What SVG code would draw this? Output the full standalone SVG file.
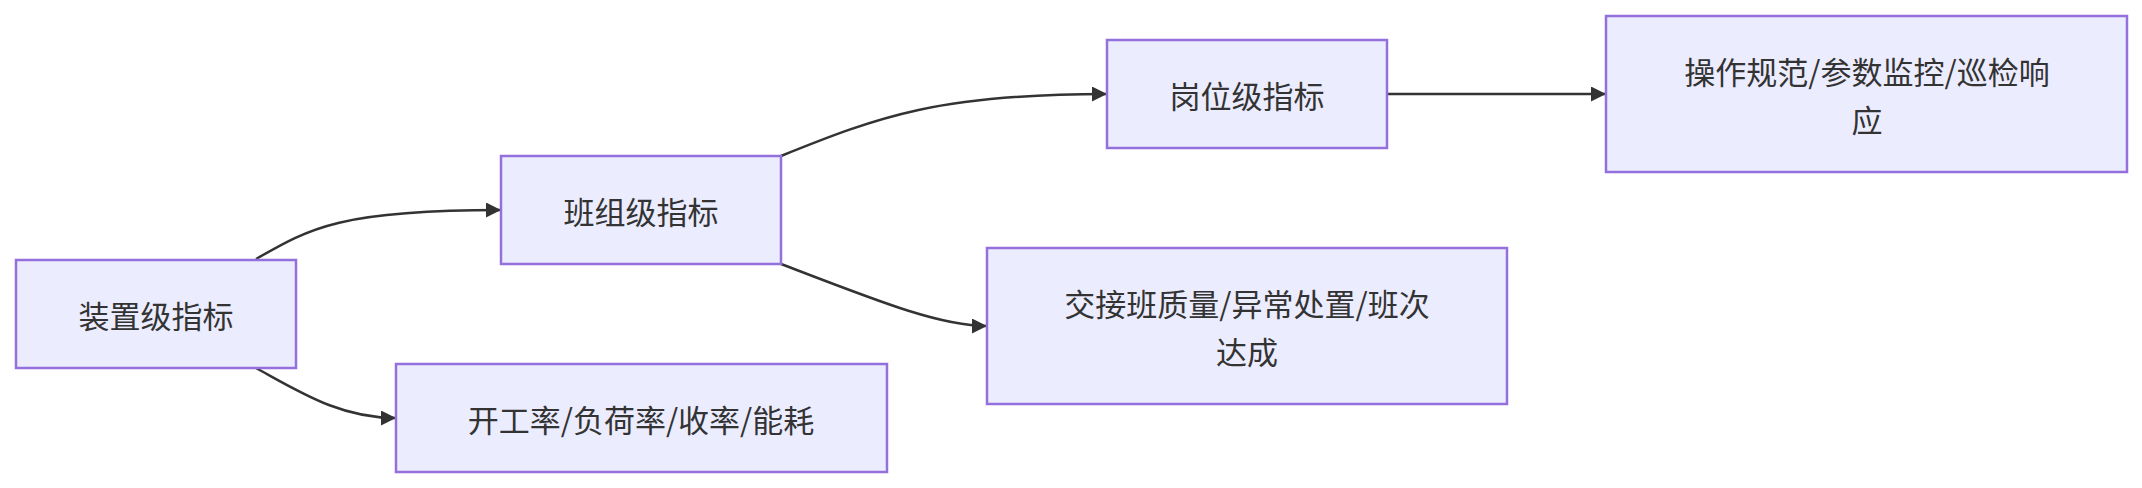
<svg xmlns="http://www.w3.org/2000/svg" width="2142" height="488" viewBox="0 0 2142 488">
<style>
.n rect{fill:#ECECFF;stroke:#9370DB;stroke-width:2.5}
.n text{font-family:"Noto Sans CJK SC","Liberation Sans",sans-serif;font-size:31px;fill:#333;text-anchor:middle;dominant-baseline:central}
.e path{fill:none;stroke:#333;stroke-width:2.5;marker-end:url(#a)}
</style>
<defs><marker id="a" viewBox="0 0 10 10" refX="10" refY="5" markerWidth="6" markerHeight="6" orient="auto" markerUnits="strokeWidth"><path d="M0,0L10,5L0,10z" fill="#333"/></marker></defs>
<rect width="2142" height="488" fill="#fff"/>
<g id="edges" class="e">
<path d="M256,259C310,228 340,210 501,210"/>
<path d="M256,368C300,392 340,418 396,418"/>
<path d="M781,156C880,116 940,94 1107,94"/>
<path d="M781,264C880,302 940,326 987,326"/>
<path d="M1387,94L1606,94"/>
</g>
<g id="A" class="n"><rect x="16" y="260" width="280" height="108"/><text x="156" y="314">装置级指标</text></g>
<g id="B" class="n"><rect x="501" y="156" width="280" height="108"/><text x="641" y="210">班组级指标</text></g>
<g id="C" class="n"><rect x="396" y="364" width="491" height="108"/><text x="641" y="418">开工率/负荷率/收率/能耗</text></g>
<g id="D" class="n"><rect x="987" y="248" width="520" height="156"/><text x="1247" y="302">交接班质量/异常处置/班次</text><text x="1247" y="350">达成</text></g>
<g id="E" class="n"><rect x="1107" y="40" width="280" height="108"/><text x="1247" y="94">岗位级指标</text></g>
<g id="F" class="n"><rect x="1606" y="16" width="521" height="156"/><text x="1867" y="70">操作规范/参数监控/巡检响</text><text x="1867" y="118">应</text></g>
</svg>
